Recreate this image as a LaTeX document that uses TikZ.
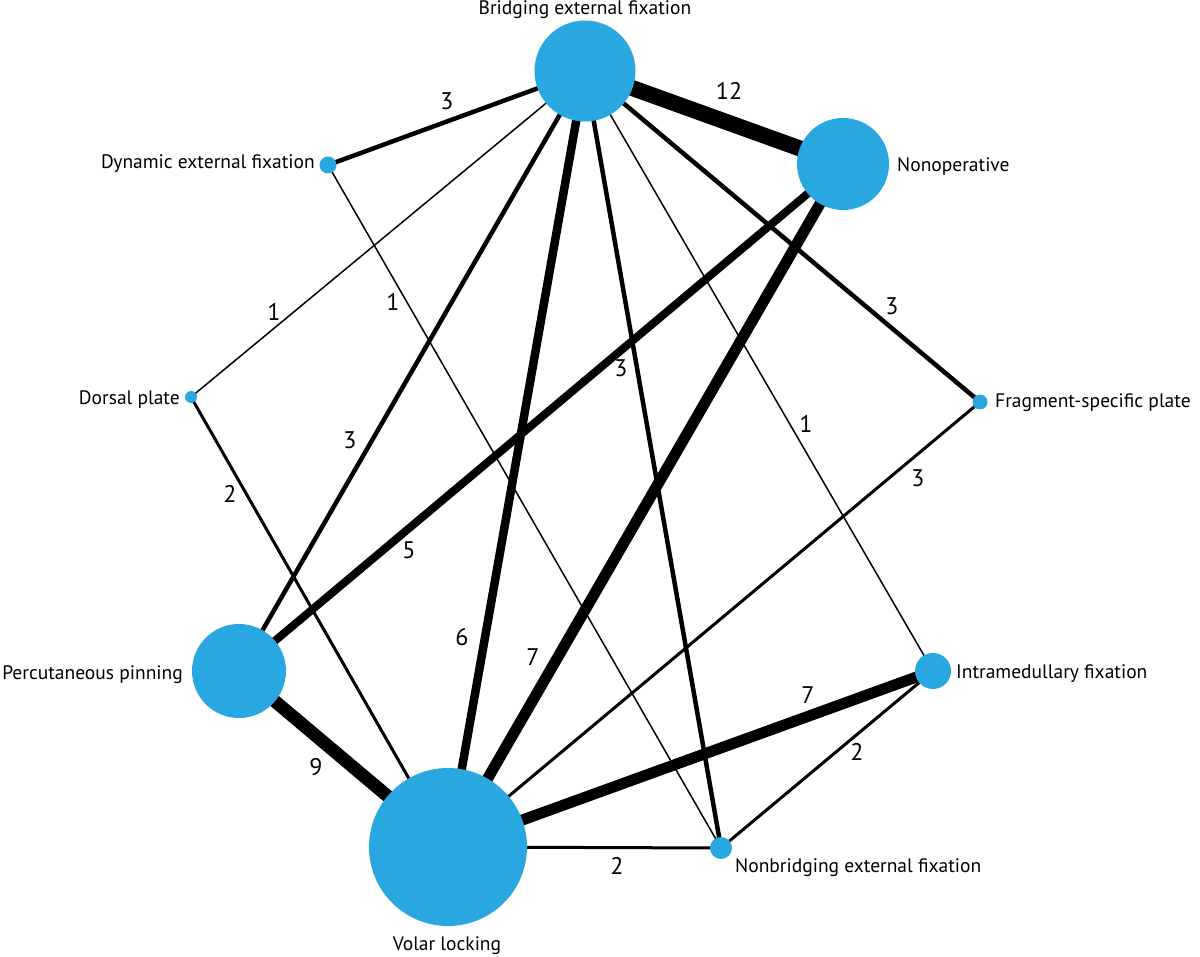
\documentclass[tikz,border=0pt]{standalone}
\usepackage{fontspec}
\setmainfont{PT Sans}
\definecolor{nodeblue}{RGB}{41,167,224}
\begin{document}
\begin{tikzpicture}[x=1pt,y=-1pt,
  tr/.style={circle,fill=nodeblue,draw=none,inner sep=0pt,minimum size=#1},
  lab/.style={font=\fontsize{19.5}{22}\selectfont,inner sep=0pt},
  num/.style={font=\fontsize{24}{26}\selectfont,inner sep=0pt},
  e1/.style={line width=1.5pt},
  e2/.style={line width=3pt},
  e3/.style={line width=4.5pt},
  e5/.style={line width=8pt},
  e6/.style={line width=8.5pt},
  e7/.style={line width=11pt},
  e9/.style={line width=13pt},
  e12/.style={line width=16pt}]
\useasboundingbox (0,0) rectangle (1200,957);
% node centres
\coordinate (bef) at (585,71);
\coordinate (non) at (843,164);
\coordinate (dyn) at (328,165);
\coordinate (dor) at (191,397);
\coordinate (frg) at (980,402);
\coordinate (per) at (239,671);
\coordinate (imf) at (933,671);
\coordinate (vol) at (448,847);
\coordinate (nbr) at (721,848);
% edges
\draw[e3] (bef) -- (dyn);
\draw[e12] (bef) -- (non);
\draw[e1] (bef) -- (dor);
\draw[e3] (bef) -- (per);
\draw[e6] (bef) -- (vol);
\draw[e3] (bef) -- (nbr);
\draw[e1] (bef) -- (imf);
\draw[e3] (bef) -- (frg);
\draw[e1] (dyn) -- (nbr);
\draw[e5] (non) -- (per);
\draw[e7] (non) -- (vol);
\draw[e2] (dor) -- (vol);
\draw[e2] (frg) -- (vol);
\draw[e9] (per) -- (vol);
\draw[e7] (imf) -- (vol);
\draw[e2] (imf) -- (nbr);
\draw[e2] (vol) -- (nbr);
% nodes
\node[tr=101pt] (nbef) at (bef) {};
\node[tr=92pt] (nnon) at (non) {};
\node[tr=17pt] (ndyn) at (dyn) {};
\node[tr=12pt] (ndor) at (dor) {};
\node[tr=15pt] (nfrg) at (frg) {};
\node[tr=94pt] (nper) at (per) {};
\node[tr=36pt] (nimf) at (imf) {};
\node[tr=158pt] (nvol) at (vol) {};
\node[tr=22pt] (nnbr) at (nbr) {};
% labels
\node[lab,anchor=base] (lbef) at (585,15) {Bridging external fixation};
\node[lab,anchor=base west] (lnon) at (897,172) {Nonoperative};
\node[lab,anchor=base east] (ldyn) at (315,169) {Dynamic external fixation};
\node[lab,anchor=base east] (ldor) at (180,405) {Dorsal plate};
\node[lab,anchor=base west] (lfrg) at (995,408) {Fragment-specific plate};
\node[lab,anchor=base east] (lper) at (183,679) {Percutaneous pinning};
\node[lab,anchor=base west] (limf) at (956,678) {Intramedullary fixation};
\node[lab,anchor=base] (lvol) at (447,950) {Volar locking};
\node[lab,anchor=base west] (lnbr) at (735,872) {Nonbridging external fixation};
% edge weights
\node[num] (w1) at (447,101) {3};
\node[num] (w2) at (729,91) {12};
\node[num] (w3) at (274,312) {1};
\node[num] (w4) at (393,302) {1};
\node[num] (w5) at (621,368) {3};
\node[num] (w6) at (892,306) {3};
\node[num] (w7) at (806,424) {1};
\node[num] (w8) at (350,440) {3};
\node[num] (w9) at (918,478) {3};
\node[num] (w10) at (230,494) {2};
\node[num] (w11) at (409,550) {5};
\node[num] (w12) at (462,637) {6};
\node[num] (w13) at (533,657) {7};
\node[num] (w14) at (808,695) {7};
\node[num] (w15) at (316,767) {9};
\node[num] (w16) at (857,752) {2};
\node[num] (w17) at (617,866) {2};
\end{tikzpicture}
\end{document}
